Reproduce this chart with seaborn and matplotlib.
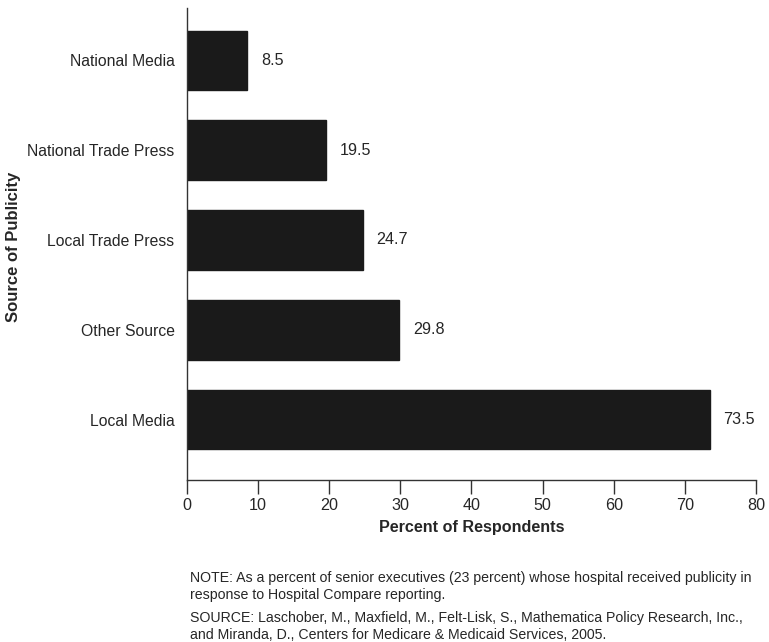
import matplotlib
matplotlib.use("Agg")
import matplotlib.pyplot as plt
import pandas as pd
import seaborn as sns

sources = ["National Media", "National Trade Press", "Local Trade Press", "Other Source", "Local Media"]
percents = [8.5, 19.5, 24.7, 29.8, 73.5]
value_labels = ["8.5", "19.5", "24.7", "29.8", "73.5"]
x_ticks = [0, 10, 20, 30, 40, 50, 60, 70, 80]

df = pd.DataFrame({"source": sources, "percent": percents})

sns.set_style("ticks")
plt.rcParams["font.family"] = ["Liberation Sans", "DejaVu Sans"]

fig = plt.figure(figsize=(7.69, 6.42), dpi=100)
ax = fig.add_axes([0.2432, 0.2523, 0.7398, 0.7352])

sns.barplot(data=df, x="percent", y="source", order=sources, color="#1a1a1a",
            saturation=1, width=0.66, ax=ax, edgecolor="#1a1a1a")

ax.bar_label(ax.containers[0], labels=value_labels, padding=10, fontsize=11.6)

ax.set_xlim(0, 80)
ax.set_ylim(4.67, -0.58)
ax.set_xticks(x_ticks)
ax.tick_params(axis="x", length=10, width=1, labelsize=11.6, pad=3, color="#333333")
ax.tick_params(axis="y", length=0, labelsize=11.3, pad=9)

ax.set_xlabel("Percent of Respondents", fontsize=11.6, fontweight="bold", labelpad=5)
ax.set_ylabel("Source of Publicity", fontsize=12, fontweight="bold")
ax.yaxis.set_label_coords(-0.292, 0.494)

for side in ["top", "right"]:
    ax.spines[side].set_visible(False)
for side in ["left", "bottom"]:
    ax.spines[side].set_color("#333333")
    ax.spines[side].set_linewidth(1)

note = ("NOTE: As a percent of senior executives (23 percent) whose hospital received publicity in\n"
        "response to Hospital Compare reporting.")
source = ("SOURCE: Laschober, M., Maxfield, M., Felt-Lisk, S., Mathematica Policy Research, Inc.,\n"
          "and Miranda, D., Centers for Medicare & Medicaid Services, 2005.")
fig.text(190 / 769, 1 - 571 / 642, note, fontsize=10.2, va="top", ha="left", linespacing=1.25)
fig.text(190 / 769, 1 - 611 / 642, source, fontsize=10.2, va="top", ha="left", linespacing=1.25)

fig.savefig("out.png", dpi=100)
